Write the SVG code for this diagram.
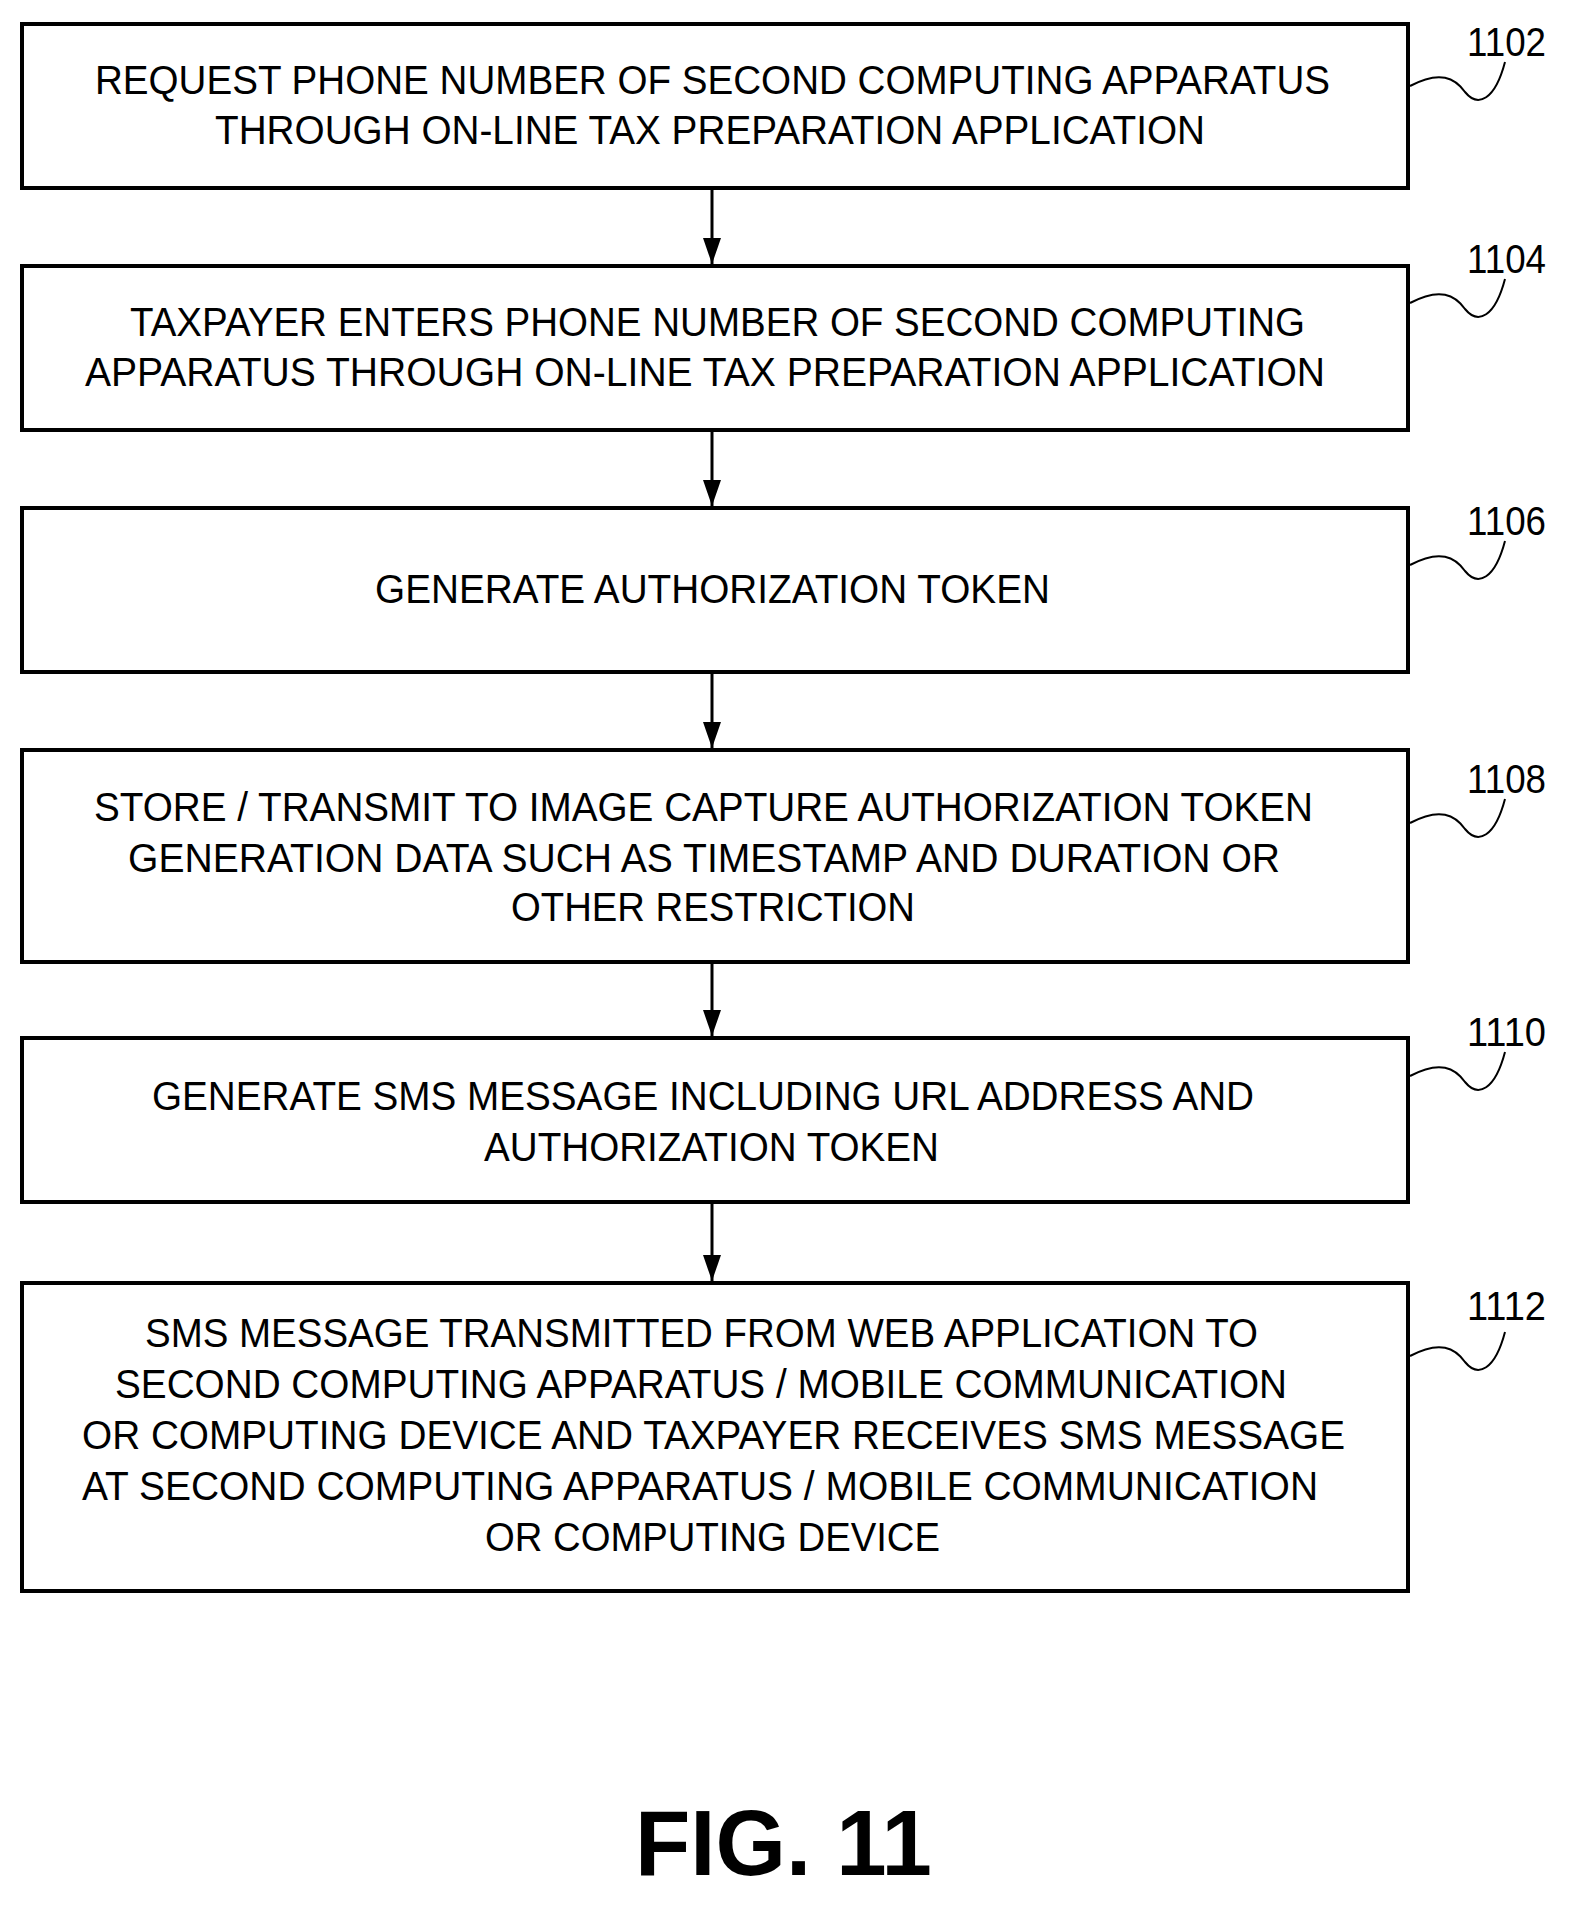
<svg xmlns="http://www.w3.org/2000/svg" width="1573" height="1905" viewBox="0 0 1573 1905">
<style>
.box{fill:#fff;stroke:#000;stroke-width:4}
.t{font-family:"Liberation Sans",Arial,sans-serif;font-size:40px;fill:#000}
.n{font-family:"Liberation Sans",Arial,sans-serif;font-size:40px;fill:#000}
.sq{fill:none;stroke:#000;stroke-width:2}
.c{stroke:#000;stroke-width:3;fill:none}
</style>
<defs><marker id="ah" markerWidth="26" markerHeight="18" refX="26" refY="9" orient="auto" markerUnits="userSpaceOnUse" viewBox="0 0 26 18"><path d="M0,0 L26,9 L0,18 Z" fill="#000"/></marker></defs>
<rect width="1573" height="1905" fill="#fff"/>
<g id="connectors">
<line class="c" x1="712" y1="190" x2="712" y2="264" marker-end="url(#ah)"/>
<line class="c" x1="712" y1="432" x2="712" y2="506" marker-end="url(#ah)"/>
<line class="c" x1="712" y1="674" x2="712" y2="748" marker-end="url(#ah)"/>
<line class="c" x1="712" y1="964" x2="712" y2="1036" marker-end="url(#ah)"/>
<line class="c" x1="712" y1="1204" x2="712" y2="1281" marker-end="url(#ah)"/>
</g>
<g id="n1102">
<rect class="box" x="22" y="24" width="1386" height="164"/>
<text class="t" x="95" y="94" textLength="1235" lengthAdjust="spacingAndGlyphs">REQUEST PHONE NUMBER OF SECOND COMPUTING APPARATUS</text>
<text class="t" x="215" y="144" textLength="990" lengthAdjust="spacingAndGlyphs">THROUGH ON-LINE TAX PREPARATION APPLICATION</text>
<text class="n" x="1467" y="56" textLength="79" lengthAdjust="spacingAndGlyphs">1102</text>
<path class="sq" d="M1410,86 C1440,70 1455,78 1465,92 C1478,108 1495,100 1505,62"/>
</g>
<g id="n1104">
<rect class="box" x="22" y="266" width="1386" height="164"/>
<text class="t" x="130" y="336" textLength="1175" lengthAdjust="spacingAndGlyphs">TAXPAYER ENTERS PHONE NUMBER OF SECOND COMPUTING</text>
<text class="t" x="85" y="386" textLength="1240" lengthAdjust="spacingAndGlyphs">APPARATUS THROUGH ON-LINE TAX PREPARATION APPLICATION</text>
<text class="n" x="1467" y="273" textLength="79" lengthAdjust="spacingAndGlyphs">1104</text>
<path class="sq" d="M1410,303 C1440,287 1455,295 1465,309 C1478,325 1495,317 1505,279"/>
</g>
<g id="n1106">
<rect class="box" x="22" y="508" width="1386" height="164"/>
<text class="t" x="375" y="603" textLength="675" lengthAdjust="spacingAndGlyphs">GENERATE AUTHORIZATION TOKEN</text>
<text class="n" x="1467" y="535" textLength="79" lengthAdjust="spacingAndGlyphs">1106</text>
<path class="sq" d="M1410,565 C1440,549 1455,557 1465,571 C1478,587 1495,579 1505,541"/>
</g>
<g id="n1108">
<rect class="box" x="22" y="750" width="1386" height="212"/>
<text class="t" x="94" y="821" textLength="1219" lengthAdjust="spacingAndGlyphs">STORE / TRANSMIT TO IMAGE CAPTURE AUTHORIZATION TOKEN</text>
<text class="t" x="128" y="872" textLength="1152" lengthAdjust="spacingAndGlyphs">GENERATION DATA SUCH AS TIMESTAMP AND DURATION OR</text>
<text class="t" x="511" y="921" textLength="404" lengthAdjust="spacingAndGlyphs">OTHER RESTRICTION</text>
<text class="n" x="1467" y="793" textLength="79" lengthAdjust="spacingAndGlyphs">1108</text>
<path class="sq" d="M1410,823 C1440,807 1455,815 1465,829 C1478,845 1495,837 1505,799"/>
</g>
<g id="n1110">
<rect class="box" x="22" y="1038" width="1386" height="164"/>
<text class="t" x="152" y="1110" textLength="1102" lengthAdjust="spacingAndGlyphs">GENERATE SMS MESSAGE INCLUDING URL ADDRESS AND</text>
<text class="t" x="484" y="1161" textLength="455" lengthAdjust="spacingAndGlyphs">AUTHORIZATION TOKEN</text>
<text class="n" x="1467" y="1046" textLength="79" lengthAdjust="spacingAndGlyphs">1110</text>
<path class="sq" d="M1410,1076 C1440,1060 1455,1068 1465,1082 C1478,1098 1495,1090 1505,1052"/>
</g>
<g id="n1112">
<rect class="box" x="22" y="1283" width="1386" height="308"/>
<text class="t" x="145" y="1347" textLength="1113" lengthAdjust="spacingAndGlyphs">SMS MESSAGE TRANSMITTED FROM WEB APPLICATION TO</text>
<text class="t" x="115" y="1398" textLength="1172" lengthAdjust="spacingAndGlyphs">SECOND COMPUTING APPARATUS / MOBILE COMMUNICATION</text>
<text class="t" x="82" y="1449" textLength="1263" lengthAdjust="spacingAndGlyphs">OR COMPUTING DEVICE AND TAXPAYER RECEIVES SMS MESSAGE</text>
<text class="t" x="82" y="1500" textLength="1236" lengthAdjust="spacingAndGlyphs">AT SECOND COMPUTING APPARATUS / MOBILE COMMUNICATION</text>
<text class="t" x="485" y="1551" textLength="455" lengthAdjust="spacingAndGlyphs">OR COMPUTING DEVICE</text>
<text class="n" x="1467" y="1320" textLength="79" lengthAdjust="spacingAndGlyphs">1112</text>
<path class="sq" d="M1410,1356 C1440,1340 1455,1348 1465,1362 C1478,1378 1495,1370 1505,1332"/>
</g>
<text x="635" y="1875" font-family="Liberation Sans,Arial,sans-serif" font-weight="bold" font-size="92" textLength="297" lengthAdjust="spacingAndGlyphs">FIG. 11</text>
</svg>
